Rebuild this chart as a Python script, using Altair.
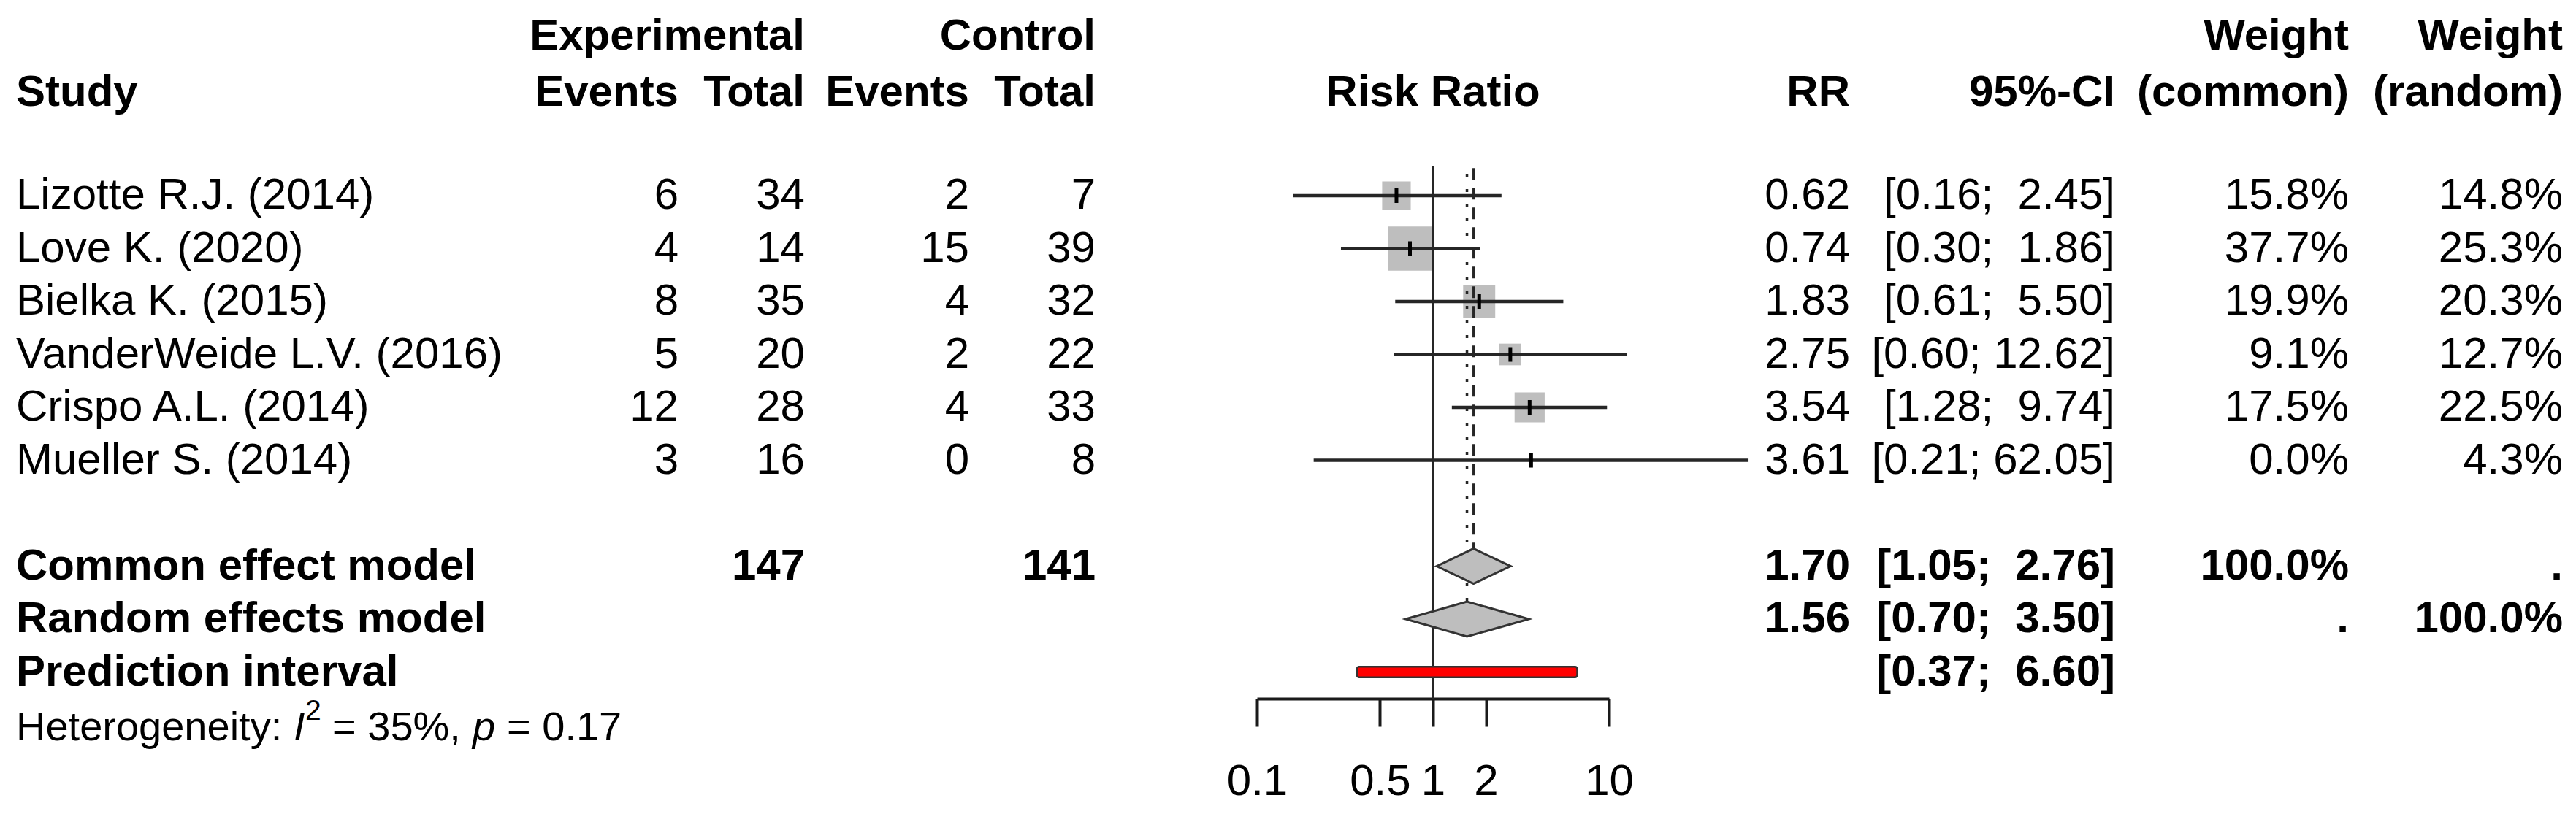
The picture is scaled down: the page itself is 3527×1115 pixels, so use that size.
import altair as alt
import pandas as pd

# ---------------- data ----------------
studies = ["Lizotte R.J. (2014)", "Love K. (2020)", "Bielka K. (2015)",
           "VanderWeide L.V. (2016)", "Crispo A.L. (2014)", "Mueller S. (2014)"]
ev_exp = [6, 4, 8, 5, 12, 3]
n_exp = [34, 14, 35, 20, 28, 16]
ev_ctrl = [2, 15, 4, 2, 4, 0]
n_ctrl = [7, 39, 32, 22, 33, 8]
rr = [0.62, 0.74, 1.83, 2.75, 3.54, 3.61]
ci_lo = [0.16, 0.30, 0.61, 0.60, 1.28, 0.21]
ci_hi = [2.45, 1.86, 5.50, 12.62, 9.74, 62.05]
w_common = [15.8, 37.7, 19.9, 9.1, 17.5, 0.0]
w_random = [14.8, 25.3, 20.3, 12.7, 22.5, 4.3]

total_exp = 147
total_ctrl = 141
common_est = [1.70, 1.05, 2.76]   # est, lo, hi
random_est = [1.56, 0.70, 3.50]
pred_int = [0.37, 6.60]
het_i2 = 35
het_p = 0.17
axis_ticks = [0.1, 0.5, 1, 2, 10]

# ---------------- layout ----------------
FONT = "Liberation Sans"
FS = 60
W, H = 3511, 949
Y_TOP, Y_BOT = -3.586, 9.503
YS = alt.Scale(domain=[Y_TOP, Y_BOT], reverse=True, nice=False, zero=False)
XS = alt.Scale(type="log", domain=[0.1, 10], range=[1713, 2195], nice=False)
XAXIS = alt.Axis(values=axis_ticks, format="~g", tickSize=38, tickWidth=4,
                 domainWidth=4, domainColor="#1a1a1a", tickColor="#1a1a1a",
                 labelFontSize=FS, labelFont=FONT, labelColor="black",
                 labelPadding=46, grid=False, title=None, labelFlush=False,
                 labelOverlap=False)

H1, H2 = -3.0, -1.95
ROWS = list(range(len(studies)))
U_COMMON, U_RANDOM, U_PRED, U_HET = 7, 8, 9, 10.05
LINE = "#262626"
GRAY = "#bebebe"


def X(field):
    return alt.X(field, type="quantitative", scale=XS, axis=XAXIS)


def Y(field):
    return alt.Y(field, type="quantitative", scale=YS, axis=None)


def ci_text(lo, hi):
    s = f"{hi:5.2f}".replace(" ", "\u00a0")
    return f"[{lo:.2f};\u00a0{s}]"


# ---------------- forest marks ----------------
sdf = pd.DataFrame({"u": ROWS, "rr": rr, "lo": ci_lo, "hi": ci_hi, "w": w_common})

squares = alt.Chart(sdf).mark_square(color=GRAY, opacity=1, filled=True).encode(
    x=X("rr"), y=Y("u"),
    size=alt.Size("w:Q", scale=alt.Scale(domain=[0, 100], range=[0, 9700]), legend=None))

ci_lines = alt.Chart(sdf).mark_rule(color=LINE, strokeWidth=4.5).encode(
    x=X("lo"), x2="hi", y=Y("u"))

est_ticks = alt.Chart(sdf).transform_calculate(
    a="datum.u - 0.138", b="datum.u + 0.138").mark_rule(color="black", strokeWidth=5).encode(
    x=X("rr"), y=Y("a"), y2="b")

ref_df = pd.DataFrame({"x": [1.0], "a": [-0.55], "b": [Y_BOT]})
ref_line = alt.Chart(ref_df).mark_rule(color=LINE, strokeWidth=4).encode(
    x=X("x"), y=Y("a"), y2="b")

common_df = pd.DataFrame({"x": [common_est[0]], "a": [-0.52], "b": [U_COMMON - 0.331]})
common_line = alt.Chart(common_df).mark_rule(color=LINE, strokeWidth=3, strokeDash=[16, 11]).encode(
    x=X("x"), y=Y("a"), y2="b")

random_df = pd.DataFrame({"x": [random_est[0]], "a": [-0.40], "b": [U_RANDOM - 0.331]})
random_line = alt.Chart(random_df).mark_rule(color=LINE, strokeWidth=3.5, strokeDash=[4, 16]).encode(
    x=X("x"), y=Y("a"), y2="b")

dia_rows = []
for name, est, u in [("common", common_est, U_COMMON), ("random", random_est, U_RANDOM)]:
    dia_rows += [
        {"m": name, "x": est[1], "a": u, "b": u},
        {"m": name, "x": est[0], "a": u - 0.331, "b": u + 0.331},
        {"m": name, "x": est[2], "a": u, "b": u},
    ]
dia_df = pd.DataFrame(dia_rows)
diamonds = alt.Chart(dia_df).mark_area(fill=GRAY, stroke="#333333", strokeWidth=3,
                                       opacity=1, orient="vertical").encode(
    x=X("x"), y=Y("a"), y2="b", detail="m:N")

pred_df = pd.DataFrame({"lo": [pred_int[0]], "hi": [pred_int[1]],
                        "a": [U_PRED - 0.1], "b": [U_PRED + 0.1]})
pred_bar = alt.Chart(pred_df).mark_rect(fill="#ff0000", stroke="#333333", strokeWidth=2.5,
                                        cornerRadius=3).encode(
    x=X("lo"), x2="hi", y=Y("a"), y2="b")

# ---------------- text columns ----------------
def text_layer(items, x, align, bold, size=FS, dy=0, italic=False):
    df = pd.DataFrame({"u": [i[0] for i in items], "t": [i[1] for i in items]})
    kw = dict(align=align, baseline="middle", font=FONT, fontSize=size,
              fontWeight="bold" if bold else "normal", color="black")
    if dy:
        kw["dy"] = dy
    if italic:
        kw["fontStyle"] = "italic"
    return alt.Chart(df).mark_text(**kw).encode(x=alt.value(x), y=Y("u"), text="t:N")


columns = [
    (14, "left",
     list(zip(ROWS, studies)),
     [(H2, "Study"), (U_COMMON, "Common effect model"),
      (U_RANDOM, "Random effects model"), (U_PRED, "Prediction interval")]),
    (921, "right", list(zip(ROWS, [str(v) for v in ev_exp])), [(H2, "Events")]),
    (1094, "right", list(zip(ROWS, [str(v) for v in n_exp])),
     [(H1, "Experimental"), (H2, "Total"), (U_COMMON, str(total_exp))]),
    (1319, "right", list(zip(ROWS, [str(v) for v in ev_ctrl])), [(H2, "Events")]),
    (1492, "right", list(zip(ROWS, [str(v) for v in n_ctrl])),
     [(H1, "Control"), (H2, "Total"), (U_COMMON, str(total_ctrl))]),
    (1954, "center", [], [(H2, "Risk Ratio")]),
    (2525, "right", list(zip(ROWS, [f"{v:.2f}" for v in rr])),
     [(H2, "RR"), (U_COMMON, f"{common_est[0]:.2f}"), (U_RANDOM, f"{random_est[0]:.2f}")]),
    (2888, "right", list(zip(ROWS, [ci_text(a, b) for a, b in zip(ci_lo, ci_hi)])),
     [(H2, "95%-CI"), (U_COMMON, ci_text(common_est[1], common_est[2])),
      (U_RANDOM, ci_text(random_est[1], random_est[2])),
      (U_PRED, ci_text(pred_int[0], pred_int[1]))]),
    (3208, "right", list(zip(ROWS, [f"{v:.1f}%" for v in w_common])),
     [(H1, "Weight"), (H2, "(common)"), (U_COMMON, "100.0%"), (U_RANDOM, ".")]),
    (3501, "right", list(zip(ROWS, [f"{v:.1f}%" for v in w_random])),
     [(H1, "Weight"), (H2, "(random)"), (U_COMMON, "."), (U_RANDOM, "100.0%")]),
]

text_layers = []
for x, align, reg, bold in columns:
    if reg:
        text_layers.append(text_layer(reg, x, align, False))
    if bold:
        text_layers.append(text_layer(bold, x, align, True))

# heterogeneity line with italic I, superscript 2 and italic p
HS = 56
het_layers = [
    text_layer([(U_HET, "Heterogeneity:")], 14, "left", False, size=HS),
    text_layer([(U_HET, "I")], 394, "left", False, size=HS, italic=True),
    text_layer([(U_HET, "2")], 410, "left", False, size=39, dy=-23),
    text_layer([(U_HET, f"= {het_i2}%,")], 447, "left", False, size=HS),
    text_layer([(U_HET, "p")], 639, "left", False, size=HS, italic=True),
    text_layer([(U_HET, f"= {het_p:.2f}")], 686, "left", False, size=HS),
]

chart = alt.layer(
    squares, ci_lines, est_ticks, ref_line, common_line, random_line,
    diamonds, pred_bar, *text_layers, *het_layers
).properties(width=W, height=H, padding=0).configure_view(strokeWidth=0)

chart.save("out.html", embed_options={"renderer": "svg", "actions": False})
